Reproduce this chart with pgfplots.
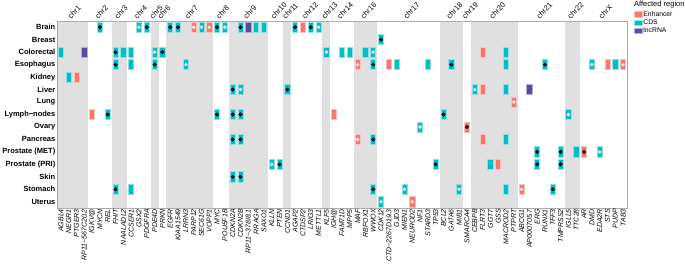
\documentclass[border=0pt]{standalone}
\usepackage{pgfplots}
\pgfplotsset{compat=1.18}
\usepackage{pgfplotstable}
\usepackage{fontspec}
\setmainfont{Liberation Sans}

\definecolor{enh}{HTML}{F8766D}
\definecolor{cds}{HTML}{00BFC4}
\definecolor{lnc}{HTML}{574DA0}
\definecolor{band}{HTML}{E0E0E0}

% one tile per gene/tissue pair
\pgfdeclareplotmark{tile}{%
  \pgfpathrectangle{\pgfpoint{-2.6pt}{-5.1pt}}{\pgfpoint{5.2pt}{10.2pt}}%
  \pgfusepathqfillstroke}

% g = gene column, t = tissue row, r = region (1 enhancer, 2 CDS, 3 lncRNA), d = dot (0 none, 1 black, 2 white)
\pgfplotstableread{
g t r d
6 1 2 1
11 1 2 2
12 1 2 1
15 1 2 1
16 1 2 1
18 1 1 2
19 1 2 2
20 1 1 2
21 1 2 1
22 1 2 2
24 1 2 1
25 1 3 0
26 1 2 0
27 1 2 0
31 1 2 1
32 1 1 0
33 1 2 1
34 1 2 2
42 2 2 1
1 3 2 0
4 3 3 0
8 3 2 1
9 3 2 0
10 3 2 0
13 3 2 2
14 3 2 1
35 3 2 2
37 3 2 0
38 3 2 0
40 3 2 0
41 3 2 2
55 3 1 0
58 3 2 0
8 4 2 1
10 4 2 0
13 4 2 1
17 4 2 2
39 4 1 2
41 4 2 1
43 4 1 0
44 4 2 0
48 4 2 0
51 4 2 1
58 4 2 0
63 4 2 1
69 4 2 2
71 4 1 0
72 4 2 0
73 4 1 2
2 5 2 0
3 5 1 0
23 6 2 1
24 6 2 2
30 6 2 1
54 6 2 2
55 6 1 0
58 6 2 0
61 6 3 0
59 7 1 2
5 8 1 0
7 8 2 1
21 8 2 1
23 8 2 1
24 8 2 1
36 8 1 0
50 8 2 1
66 8 2 2
47 9 2 2
53 9 1 1
23 10 2 1
24 10 2 1
39 10 1 2
41 10 2 1
55 10 1 0
58 10 2 0
62 11 2 1
65 11 2 1
67 11 2 0
68 11 1 1
70 11 2 2
28 12 2 2
29 12 2 1
49 12 2 1
56 12 2 0
57 12 1 0
62 12 2 1
65 12 2 1
23 13 2 1
24 13 2 1
8 14 2 1
10 14 2 0
41 14 2 1
45 14 2 2
52 14 2 2
58 14 2 0
60 14 1 2
64 14 2 1
42 15 2 2
46 15 1 2
}\tiles

\begin{document}
\begin{tikzpicture}
\begin{axis}[
  name=main,
  scale only axis, width=570pt, height=187pt,
  xmin=0.5, xmax=73.5, ymin=0.5, ymax=15.5, y dir=reverse,
  axis on top, clip=false,
  axis line style={draw=gray!65, line width=0.6pt},
  major tick length=0pt,
  xtick={1,...,73}, ytick={1,...,15},
  xticklabels={AGBL4,NEGR1,PTGER3,RP11−567C20.2,IGKV@,MYCN,REL,FHIT,NAALADL2,CCSER1,GSX2,PDGFRA,PDE4D,PRKN,EGFR,KIAA1549,LRRN3,PARP12,SEC61G,VOPP1,MYC,POU5F1B,CDKN2A,CDKN2B,RP11−378I8.1,RRAGA,SAXO1,KLLN,PTEN,CCND1,AGAP2,CTDSP2,LRIG3,METTL1,KLF5,IGH@,FAM71D,MPP5,MAF,RBFOX1,WWOX,CDK12,CTD−2267D19.3,GJD3,MIEN1,NEUROD2,NF1,STARD3,TP53,BCL2,GATA6,MIB1,SMARCA4,CEBPB,FLRT3,GGT7,GSS,MACROD2,PTPRT,ABCG1,AP000705.7,ERG,RUNX1,TFF3,TMPRSS2,IGLL5,TTC28,AR,DMD,EDA2R,STS,PUDP,TAB3},
  yticklabels={Brain,Breast,Colorectal,Esophagus,Kidney,Liver,Lung,Lymph−nodes,Ovary,Pancreas,Prostate (MET),Prostate (PRI),Skin,Stomach,Uterus},
  x tick label style={rotate=90, anchor=east, font=\itshape\fontsize{7}{8}\selectfont, inner sep=1pt},
  y tick label style={font=\bfseries\fontsize{7.5}{9}\selectfont, inner sep=1.5pt},
  legend image code/.code={\draw[#1] (0pt,-2.8pt) rectangle (8pt,2.8pt);},
  legend cell align=left,
  legend style={at={(axis description cs:1,1)}, anchor=north west, xshift=7pt, yshift=10.5pt,
    draw=none, fill=none, inner sep=0pt, row sep=0.6pt,
    font=\fontsize{6.8}{7}\selectfont, nodes={inner sep=0.6pt}},
]
% grey bands for odd chromosomes
\addplot[fill=band, draw=none, forget plot] coordinates {(0.5,0.5) (4.5,0.5) (4.5,15.5) (0.5,15.5)} -- cycle;
\addplot[fill=band, draw=none, forget plot] coordinates {(7.5,0.5) (9.5,0.5) (9.5,15.5) (7.5,15.5)} -- cycle;
\addplot[fill=band, draw=none, forget plot] coordinates {(12.5,0.5) (13.5,0.5) (13.5,15.5) (12.5,15.5)} -- cycle;
\addplot[fill=band, draw=none, forget plot] coordinates {(14.5,0.5) (20.5,0.5) (20.5,15.5) (14.5,15.5)} -- cycle;
\addplot[fill=band, draw=none, forget plot] coordinates {(22.5,0.5) (27.5,0.5) (27.5,15.5) (22.5,15.5)} -- cycle;
\addplot[fill=band, draw=none, forget plot] coordinates {(29.5,0.5) (30.5,0.5) (30.5,15.5) (29.5,15.5)} -- cycle;
\addplot[fill=band, draw=none, forget plot] coordinates {(34.5,0.5) (35.5,0.5) (35.5,15.5) (34.5,15.5)} -- cycle;
\addplot[fill=band, draw=none, forget plot] coordinates {(38.5,0.5) (41.5,0.5) (41.5,15.5) (38.5,15.5)} -- cycle;
\addplot[fill=band, draw=none, forget plot] coordinates {(49.5,0.5) (52.5,0.5) (52.5,15.5) (49.5,15.5)} -- cycle;
\addplot[fill=band, draw=none, forget plot] coordinates {(53.5,0.5) (59.5,0.5) (59.5,15.5) (53.5,15.5)} -- cycle;
\addplot[fill=band, draw=none, forget plot] coordinates {(65.5,0.5) (67.5,0.5) (67.5,15.5) (65.5,15.5)} -- cycle;

% tiles
\addplot[only marks, mark=tile, mark options={fill=enh, draw=enh!45, line width=0.7pt}, restrict expr to domain={\thisrow{r}}{1:1}, forget plot] table[x=g, y=t] {\tiles};
\addplot[only marks, mark=tile, mark options={fill=cds, draw=cds!45, line width=0.7pt}, restrict expr to domain={\thisrow{r}}{2:2}, forget plot] table[x=g, y=t] {\tiles};
\addplot[only marks, mark=tile, mark options={fill=lnc, draw=lnc!45, line width=0.7pt}, restrict expr to domain={\thisrow{r}}{3:3}, forget plot] table[x=g, y=t] {\tiles};
% dots
\addplot[only marks, mark=*, mark size=1.8pt, mark options={fill=black!90, draw=none}, restrict expr to domain={\thisrow{d}}{1:1}, forget plot] table[x=g, y=t] {\tiles};
\addplot[only marks, mark=*, mark size=1.7pt, mark options={fill=white, draw=gray!35, line width=0.3pt}, restrict expr to domain={\thisrow{d}}{2:2}, forget plot] table[x=g, y=t] {\tiles};

\addlegendimage{fill=enh, draw=enh!45, line width=0.6pt}
\addlegendentry{Enhancer}
\addlegendimage{fill=cds, draw=cds!45, line width=0.6pt}
\addlegendentry{CDS}
\addlegendimage{fill=lnc, draw=lnc!45, line width=0.6pt}
\addlegendentry{lncRNA}

\node[anchor=base west, inner sep=0pt, xshift=7pt, yshift=14pt, font=\fontsize{7.5}{9}\selectfont] at (axis description cs:1,1) {Affected region};
\end{axis}
% chromosome names on top, one per band
\begin{axis}[
  scale only axis, width=570pt, height=187pt,
  xmin=0.5, xmax=73.5, ymin=0, ymax=1,
  axis line style={draw=none}, major tick length=0pt,
  ytick=\empty, xticklabel pos=upper,
  xtick={2.5,6,8.5,11,13,14,17.5,21.5,25,28.5,30,32.5,35,37,40,45.5,51,53,56.5,62.5,66.5,70.5},
  xticklabels={chr1,chr2,chr3,chr4,chr5,chr6,chr7,chr8,chr9,chr10,chr11,chr12,chr13,chr14,chr16,chr17,chr18,chr19,chr20,chr21,chr22,chrX},
  x tick label style={rotate=45, anchor=south west, inner sep=0pt, yshift=2.2pt, font=\fontsize{7.5}{9}\selectfont},
]
\end{axis}
\pgfresetboundingbox
\path[use as bounding box] ([xshift=-57pt,yshift=-56pt]main.south west) rectangle ([xshift=58pt,yshift=21pt]main.north east);
\end{tikzpicture}
\end{document}
